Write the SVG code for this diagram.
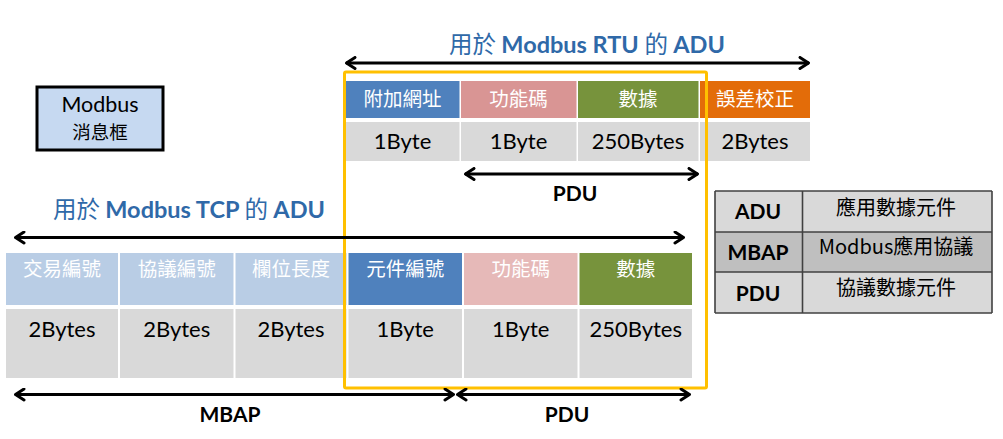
<svg xmlns="http://www.w3.org/2000/svg" width="1003" height="439" viewBox="0 0 1003 439">
<defs>
<marker id="ah" viewBox="0 0 12 14" refX="11" refY="7" markerWidth="12" markerHeight="14" markerUnits="userSpaceOnUse" orient="auto-start-reverse">
<path d="M2,1.5 L10.5,7 L2,12.5" fill="none" stroke="#000" stroke-width="3" stroke-linecap="round" stroke-linejoin="round"/>
</marker>
<style>
.t{font-family:Lato,"Noto Sans","Noto Sans CJK TC",sans-serif;}
.hd{font-family:"Noto Sans CJK TC",sans-serif;font-size:19.5px;fill:#fff;text-anchor:middle;}
.val{font-family:Lato,"Noto Sans",sans-serif;font-size:22px;fill:#000;text-anchor:middle;}
.lbl{font-family:Lato,"Noto Sans",sans-serif;font-size:21px;font-weight:bold;fill:#000;text-anchor:middle;}
.ttl{font-size:23.5px;fill:#2f69a8;text-anchor:middle;}
.cjk{font-family:"Noto Sans CJK TC",sans-serif;font-weight:normal;}
.b{font-family:Lato,"Noto Sans",sans-serif;font-weight:bold;}
.arr{stroke:#000;stroke-width:3;fill:none;marker-start:url(#ah);marker-end:url(#ah);}
.gv{fill:#d9d9d9;}
.tb{font-family:"Noto Sans CJK TC",Lato,sans-serif;font-size:20px;fill:#000;text-anchor:middle;}
.tl{stroke:#404040;stroke-width:1.6;}
</style>
</defs>

<g id="modbus-frame">
<rect x="37" y="87" width="126" height="63" fill="#c6d9f1" stroke="#000" stroke-width="3"/>
<text class="t" x="100" y="111.5" font-size="21.5" text-anchor="middle">Modbus</text>
<text x="100" y="138.5" font-size="18.5" text-anchor="middle" font-family="Noto Sans CJK TC,sans-serif">消息框</text>
</g>

<g id="rtu-title">
<text class="t ttl" x="587" y="53"><tspan class="cjk">用於 </tspan><tspan class="b">Modbus RTU </tspan><tspan class="cjk">的 </tspan><tspan class="b">ADU</tspan></text>
</g>

<g id="rtu-row">
<rect x="346" y="81" width="113.5" height="37" fill="#4f81bd"/>
<rect x="461" y="81" width="115.5" height="37" fill="#d99594"/>
<rect x="578" y="81" width="120.5" height="37" fill="#77933c"/>
<rect x="700" y="81" width="110" height="37" fill="#e36c09"/>
<text class="hd" x="402.5" y="106">附加網址</text>
<text class="hd" x="518.5" y="106">功能碼</text>
<text class="hd" x="638" y="106">數據</text>
<text class="hd" x="755" y="106">誤差校正</text>
<rect class="gv" x="346" y="122" width="113.5" height="39"/>
<rect class="gv" x="461" y="122" width="115.5" height="39"/>
<rect class="gv" x="578" y="122" width="120.5" height="39"/>
<rect class="gv" x="700" y="122" width="110" height="39"/>
<text class="val" x="402.5" y="149">1Byte</text>
<text class="val" x="518.5" y="149">1Byte</text>
<text class="val" x="638" y="149">250Bytes</text>
<text class="val" x="755" y="149">2Bytes</text>
</g>

<g id="tcp-title">
<text class="t ttl" x="189" y="218"><tspan class="cjk">用於 </tspan><tspan class="b">Modbus TCP </tspan><tspan class="cjk">的 </tspan><tspan class="b">ADU</tspan></text>
</g>

<g id="tcp-row">
<rect x="6" y="253" width="112" height="52" fill="#b9cde5"/>
<rect x="120" y="253" width="113.5" height="52" fill="#b9cde5"/>
<rect x="235.5" y="253" width="111" height="52" fill="#b9cde5"/>
<rect x="348.5" y="253" width="113.5" height="52" fill="#4f81bd"/>
<rect x="464" y="253" width="113.5" height="52" fill="#e6b9b8"/>
<rect x="579.5" y="253" width="112.5" height="52" fill="#77933c"/>
<text class="hd" x="62" y="276">交易編號</text>
<text class="hd" x="176.7" y="276">協議編號</text>
<text class="hd" x="291" y="276">欄位長度</text>
<text class="hd" x="405.2" y="276">元件編號</text>
<text class="hd" x="520.7" y="276">功能碼</text>
<text class="hd" x="635.7" y="276">數據</text>
<rect class="gv" x="6" y="309" width="112" height="69"/>
<rect class="gv" x="120" y="309" width="113.5" height="69"/>
<rect class="gv" x="235.5" y="309" width="111" height="69"/>
<rect class="gv" x="348.5" y="309" width="113.5" height="69"/>
<rect class="gv" x="464" y="309" width="113.5" height="69"/>
<rect class="gv" x="579.5" y="309" width="112.5" height="69"/>
<text class="val" x="62" y="337">2Bytes</text>
<text class="val" x="176.7" y="337">2Bytes</text>
<text class="val" x="291" y="337">2Bytes</text>
<text class="val" x="405.2" y="337">1Byte</text>
<text class="val" x="520.7" y="337">1Byte</text>
<text class="val" x="635.7" y="337">250Bytes</text>
</g>

<g id="pdu-highlight">
<rect x="344.5" y="72" width="362" height="316" fill="none" stroke="#ffc000" stroke-width="3" rx="1.5"/>
</g>

<g id="legend-table">
<rect x="715" y="191" width="277" height="41" fill="#d9d9d9"/>
<rect x="715" y="232" width="277" height="40" fill="#bfbfbf"/>
<rect x="715" y="272" width="277" height="41" fill="#d9d9d9"/>
<line class="tl" x1="715" y1="191" x2="992" y2="191"/>
<line class="tl" x1="715" y1="232" x2="992" y2="232"/>
<line class="tl" x1="715" y1="272" x2="992" y2="272"/>
<line class="tl" x1="715" y1="313" x2="992" y2="313"/>
<line class="tl" x1="715" y1="191" x2="715" y2="313"/>
<line class="tl" x1="802.5" y1="191" x2="802.5" y2="313"/>
<line class="tl" x1="992" y1="191" x2="992" y2="313"/>
<text class="lbl" x="758" y="219">ADU</text>
<text class="lbl" x="758" y="260">MBAP</text>
<text class="lbl" x="758" y="301">PDU</text>
<text class="tb" x="896" y="215">應用數據元件</text>
<text class="tb" x="896" y="254">Modbus應用協議</text>
<text class="tb" x="896" y="295">協議數據元件</text>
</g>

<g id="connectors">
<line class="arr" x1="346" y1="63" x2="809" y2="63"/>
<line class="arr" x1="465" y1="174" x2="698" y2="174"/>
<line class="arr" x1="15" y1="237.5" x2="684" y2="237.5"/>
<line class="arr" x1="15" y1="394.5" x2="454" y2="394.5"/>
<line class="arr" x1="457" y1="394.5" x2="690" y2="394.5"/>
</g>

<g id="labels">
<text class="lbl" x="575" y="201">PDU</text>
<text class="lbl" x="230" y="422">MBAP</text>
<text class="lbl" x="567" y="422">PDU</text>
</g>
</svg>
